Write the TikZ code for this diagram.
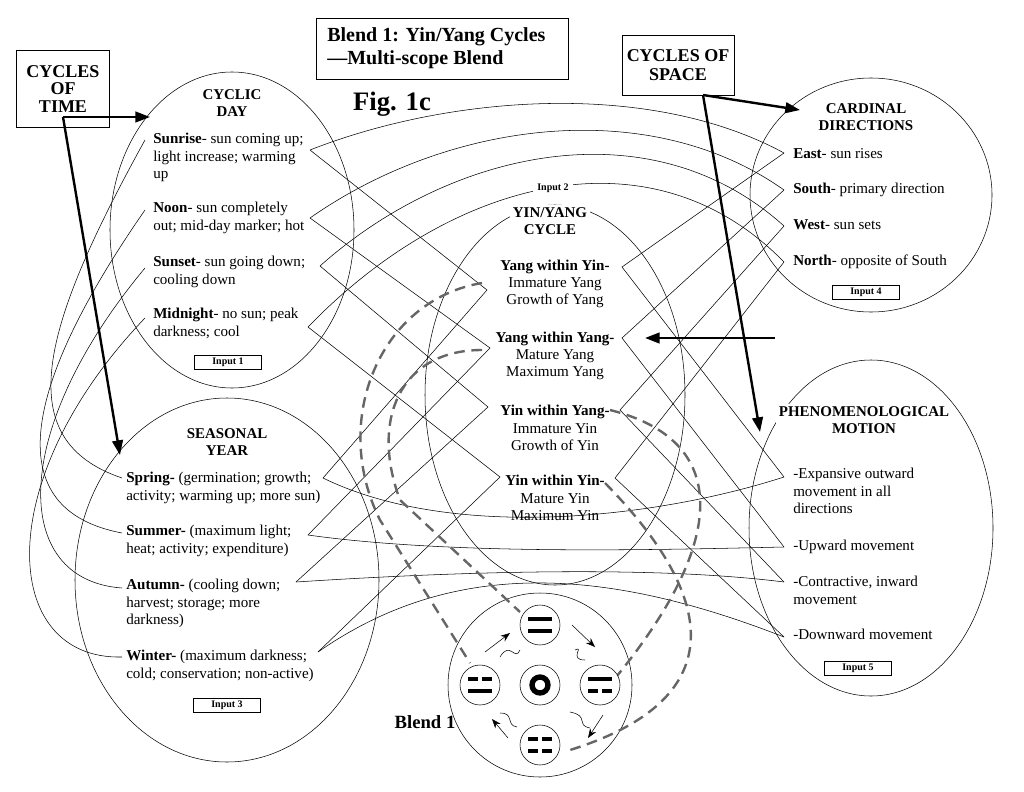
\documentclass[tikz,border=0pt]{standalone}
\usepackage{fontspec}
\setmainfont{Liberation Serif}
\usetikzlibrary{arrows.meta}
\begin{document}
\begin{tikzpicture}[x=0.75pt,y=-0.75pt,
  txt/.style={font=\fontsize{11.3}{13}\selectfont,align=left,anchor=north west,inner sep=0pt},
  ctr/.style={font=\fontsize{11.3}{13}\selectfont,align=center,inner sep=1pt},
  ttl/.style={font=\bfseries\fontsize{11.2}{12.5}\selectfont,align=center,fill=white,inner sep=2pt},
  inp/.style={draw,font=\bfseries\fontsize{7.5}{8}\selectfont,minimum width=50pt,inner sep=2pt},
  big/.style={-{Triangle[length=11pt,width=8pt]},line width=1.8pt},
  map/.style={thin},
  proj/.style={dashed,line width=1.8pt,gray!80!black,dash pattern=on 8pt off 5pt},
  bar/.style={line width=3.6pt}]
\useasboundingbox (0,0) rectangle (1024,792);

%input spaces
\draw (232,230) ellipse (122 and 158);
\draw (227,580) ellipse (152 and 182);
\draw (555,395) ellipse (130 and 190);
\draw (871,195) ellipse (121 and 117);
\draw (871,528) ellipse (122 and 168);
\draw (540,685) circle (92);

%markers
\coordinate (sunr) at (310,150); \coordinate (noon) at (310,218);
\coordinate (suns) at (320,266); \coordinate (midn) at (308,327);
\coordinate (sunrl) at (145,140); \coordinate (noonl) at (145,210);
\coordinate (sunsl) at (145,268); \coordinate (midnl) at (145,318);
\coordinate (sprl) at (122,478); \coordinate (suml) at (122,533);
\coordinate (autl) at (122,588); \coordinate (winl) at (122,657);
\coordinate (spr) at (323,478); \coordinate (sum) at (308,535);
\coordinate (aut) at (296,582); \coordinate (win) at (318,652);
\coordinate (yyil) at (487,290); \coordinate (yyal) at (490,348);
\coordinate (yiyl) at (488,407); \coordinate (yiil) at (500,477);
\coordinate (yyi) at (622,267); \coordinate (yya) at (622,338);
\coordinate (yiy) at (620,410); \coordinate (yii) at (615,478);
\coordinate (east) at (784,153); \coordinate (south) at (784,190);
\coordinate (west) at (784,226); \coordinate (north) at (784,262);
\coordinate (expa) at (784,477); \coordinate (upw) at (784,547);
\coordinate (contr) at (784,582); \coordinate (downw) at (784,637);

%cross-space mappings
\draw [map] (sunr) .. controls (450,95) and (650,80) .. (east);
\draw [map] (noon) .. controls (450,120) and (650,95) .. (south);
\draw [map] (suns) .. controls (450,150) and (650,105) .. (west);
\draw [map] (midn) .. controls (450,180) and (650,125) .. (north);
\draw [map] (sunr) -- (yyil) -- (spr);
\draw [map] (noon) -- (yyal) -- (sum);
\draw [map] (suns) -- (yiyl) -- (aut);
\draw [map] (midn) -- (yiil) -- (win);
\draw [map] (east) -- (yyi) -- (expa);
\draw [map] (south) -- (yya) -- (upw);
\draw [map] (west) -- (yiy) -- (contr);
\draw [map] (north) -- (yii) -- (downw);
\draw [map] (spr) .. controls (450,540) and (650,520) .. (expa);
\draw [map] (sum) .. controls (450,555) and (650,550) .. (upw);
\draw [map] (aut) .. controls (450,572) and (650,565) .. (contr);
\draw [map] (win) .. controls (450,560) and (600,565) .. (downw);
\draw [map] (sunrl) .. controls (40,330) and (10,440) .. (sprl);
\draw [map] (noonl) .. controls (20,390) and (0,510) .. (suml);
\draw [map] (sunsl) .. controls (10,430) and (10,580) .. (autl);
\draw [map] (midnl) .. controls (-10,480) and (0,660) .. (winl);

%projections to the blend
\draw [proj] (482,283) .. controls (380,300) and (330,420) .. (380,520) -- (470,663);
\draw [proj] (482,350) .. controls (400,350) and (370,420) .. (400,500) -- (520,612);
\draw [proj] (610,410) .. controls (730,440) and (730,540) .. (612,682);
\draw [proj] (605,483) .. controls (720,600) and (730,700) .. (570,750);

%blend trigrams
\foreach \p in {(540,625),(480,685),(540,685),(600,685),(540,745)}
  \draw [fill=white] \p circle (20);
\draw [line width=4pt] (540,685) circle (8);
\draw [bar] (528,619)--(552,619) (528,631)--(552,631);
\draw [bar] (588,679)--(612,679) (588,691)--(598,691) (602,691)--(612,691);
\draw [bar] (528,739)--(538,739) (542,739)--(552,739) (528,751)--(538,751) (542,751)--(552,751);
\draw [bar] (468,679)--(478,679) (482,679)--(492,679) (468,691)--(492,691);
\draw [-{Stealth[length=7pt]}] (485,652) -- (510,633);
\draw [-{Stealth[length=7pt]}] (572,625) -- (595,647);
\draw [-{Stealth[length=7pt]}] (603,715) -- (588,738);
\draw [-{Stealth[length=7pt]}] (508,738) -- (492,719);
\draw (500,657) .. controls (510,640) and (515,662) .. (520,650);
\draw (575,650) .. controls (585,645) and (568,660) .. (585,660);
\draw (570,712) .. controls (590,716) and (575,725) .. (590,728);
\draw (500,713) .. controls (515,713) and (505,725) .. (517,727);

%frame boxes
\node [draw,ttl,minimum width=70pt,minimum height=58pt,font=\bfseries\fontsize{13.5}{13}\selectfont] (time) at (63,89) {CYCLES\\OF\\TIME};
\node [draw,minimum width=189pt,minimum height=46pt] (title) at (442,49) {};
\node [anchor=west,align=left,inner sep=0pt,font=\bfseries\fontsize{15}{17}\selectfont] (titletxt) at (327,48) {Blend 1: Yin/Yang Cycles\\---Multi-scope Blend};
\node [draw,ttl,minimum width=84pt,minimum height=45pt,font=\bfseries\fontsize{13.5}{14}\selectfont] (space) at (678,65) {CYCLES OF\\SPACE};
\node [font=\bfseries\fontsize{20}{22}\selectfont] (fig) at (392,104) {Fig. 1c};
\node [font=\bfseries\fontsize{14}{15}\selectfont] (blend) at (425,722) {Blend 1};

\coordinate (tsplit) at (63,117);
\coordinate (ssplit) at (703,95);
\draw [big] (tsplit) -- (150,117);
\draw [big] (tsplit) -- (120,455);
\draw [big] (ssplit) -- (800,110);
\draw [big] (ssplit) -- (760,432);
\draw [big] (775,338) -- (645,338);

%input 1
\node [ttl] (day) at (232,103) {CYCLIC\\DAY};
\node [txt] at (153,133) {\textbf{Sunrise}- sun coming up;\\light increase; warming\\up};
\node [txt] at (153,202) {\textbf{Noon}- sun completely\\out; mid-day marker; hot};
\node [txt] at (153,256) {\textbf{Sunset}- sun going down;\\cooling down};
\node [txt] at (153,308) {\textbf{Midnight}- no sun; peak\\darkness; cool};
\node [inp] (in1) at (228,362) {Input 1};

%input 3
\node [ttl] (year) at (227,442) {SEASONAL\\YEAR};
\node [txt] at (126,472) {\textbf{Spring-} (germination; growth;\\activity; warming up; more sun)};
\node [txt] at (126,525) {\textbf{Summer-} (maximum light;\\heat; activity; expenditure)};
\node [txt] at (126,579) {\textbf{Autumn-} (cooling down;\\harvest; storage; more\\darkness)};
\node [txt] at (126,650) {\textbf{Winter-} (maximum darkness;\\cold; conservation; non-active)};
\node [inp] (in3) at (227,705) {Input 3};

%input 2
\node [font=\bfseries\fontsize{7.5}{8}\selectfont,fill=white] (in2) at (553,188) {Input 2};
\node [ttl] (yy) at (550,221) {YIN/YANG\\CYCLE};
\node [ctr] at (555,284) {\textbf{Yang within Yin-}\\Immature Yang\\Growth of Yang};
\node [ctr] at (555,356) {\textbf{Yang within Yang-}\\Mature Yang\\Maximum Yang};
\node [ctr] at (555,428) {\textbf{Yin within Yang-}\\Immature Yin\\Growth of Yin};
\node [ctr] at (555,498) {\textbf{Yin within Yin-}\\Mature Yin\\Maximum Yin};

%input 4
\node [ttl] (card) at (866,117) {CARDINAL\\DIRECTIONS};
\node [txt] at (793,148) {\textbf{East}- sun rises};
\node [txt] at (793,183) {\textbf{South}- primary direction};
\node [txt] at (793,219) {\textbf{West}- sun sets};
\node [txt] at (793,255) {\textbf{North}- opposite of South};
\node [inp] (in4) at (866,292) {Input 4};

%input 5
\node [ttl] (phen) at (864,420) {PHENOMENOLOGICAL\\MOTION};
\node [txt] at (793,468) {-Expansive outward\\movement in all\\directions};
\node [txt] at (793,540) {-Upward movement};
\node [txt] at (793,576) {-Contractive, inward\\movement};
\node [txt] at (793,629) {-Downward movement};
\node [inp] (in5) at (858,668) {Input 5};
\end{tikzpicture}
\end{document}
